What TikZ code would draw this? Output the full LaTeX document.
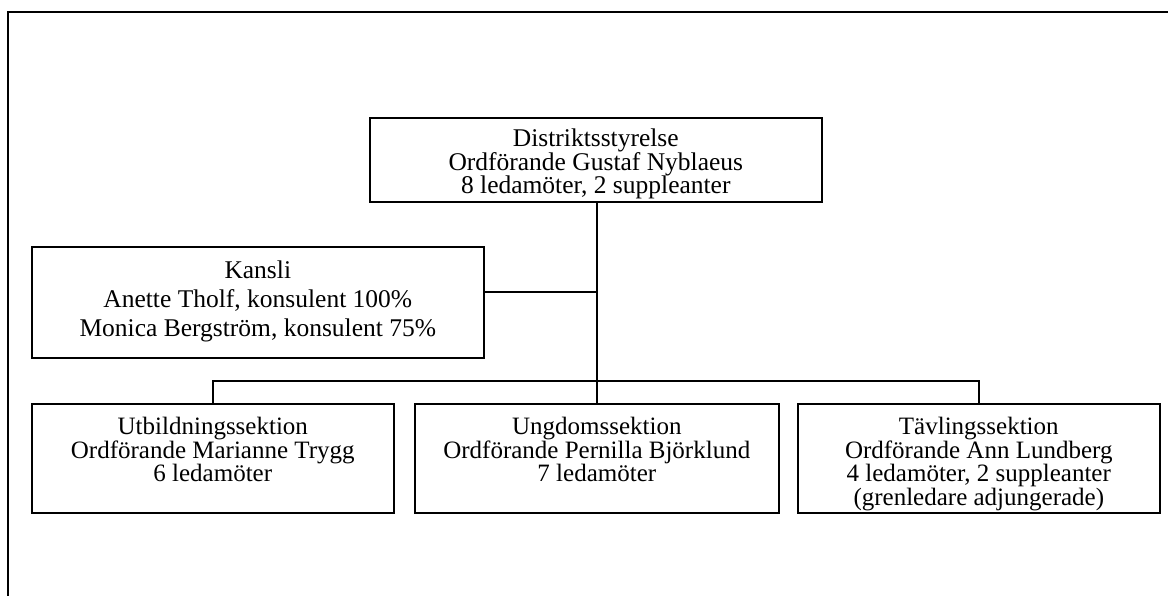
\documentclass[tikz,border=0pt]{standalone}
\usepackage{fontspec}
\setmainfont{Liberation Serif}
% #1 box height, #2 box width, #3 top padding, #4 line distance, #5 font size, #6 text
\newcommand\boxtext[6]{\parbox[c][#1][t]{#2}{\fontsize{#5}{#4}\selectfont\vspace*{#3}\centering #6\par}}
\tikzset{
  orgbox/.style={draw, line width=1.6pt, inner sep=0pt, align=center},
  link/.style={line width=1.6pt},
}
\begin{document}
\begin{tikzpicture}[x=1pt,y=-1pt]
\useasboundingbox (0,0) rectangle (1168,596);
\draw[line width=1.8pt] (8,596) -- (8,12) -- (1168,12);
\node[orgbox, anchor=north west] (ds) at (369,117)
  {\boxtext{84pt}{452pt}{11.5pt}{23.5pt}{25.5}{Distriktsstyrelse\\Ordförande Gustaf Nyblaeus\\8 ledamöter, 2 suppleanter}};
\node[orgbox, anchor=north west] (k) at (31,246)
  {\boxtext{111pt}{452pt}{14.5pt}{29pt}{25.5}{Kansli\\Anette Tholf, konsulent 100\%\\Monica Bergström, konsulent 75\%}};
\node[orgbox, anchor=north west] (u) at (31,403)
  {\boxtext{109pt}{362pt}{13pt}{22pt}{25}{Utbildningssektion\\Ordförande Marianne Trygg\\6 ledamöter}};
\node[orgbox, anchor=north west] (g) at (414,403)
  {\boxtext{109pt}{364pt}{13pt}{22pt}{25}{Ungdomssektion\\Ordförande Pernilla Björklund\\7 ledamöter}};
\node[orgbox, anchor=north west] (t) at (797,403)
  {\boxtext{109pt}{362pt}{13pt}{22pt}{25}{Tävlingssektion\\Ordförande Ann Lundberg\\4 ledamöter, 2 suppleanter\\(grenledare adjungerade)}};
\coordinate (bar) at (596,381);
\draw[link] (ds.south -| g.north) -- (g.north);
\draw[link] ([yshift=10pt]k.east) -- ([yshift=10pt]k.east -| g.north);
\draw[link] (u.north) |- (bar) -| (t.north);
\end{tikzpicture}
\end{document}
